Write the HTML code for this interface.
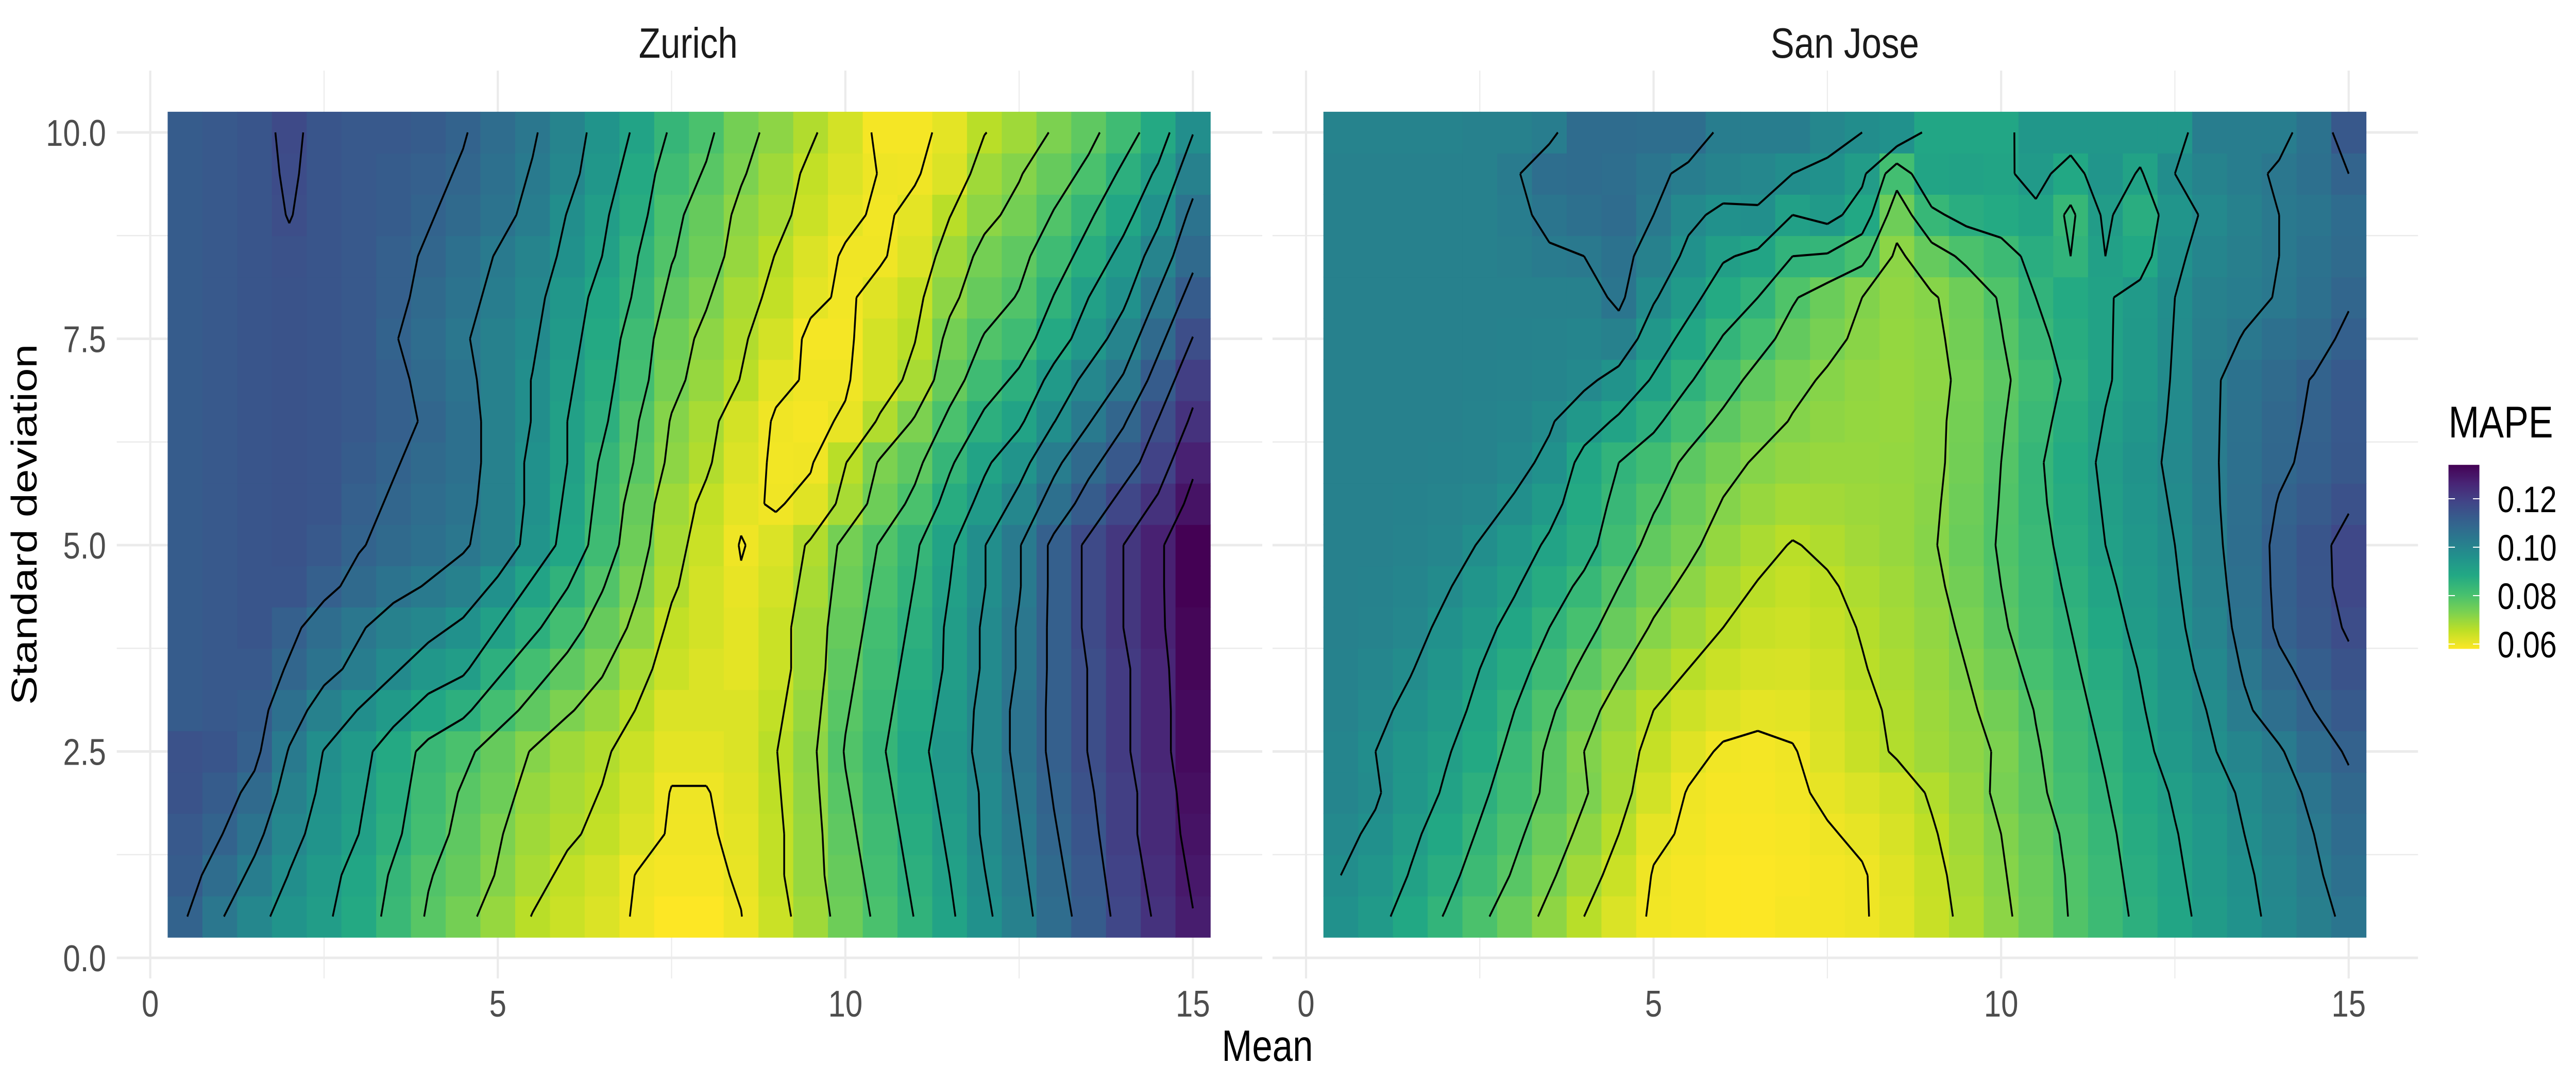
<!DOCTYPE html>
<html><head><meta charset="utf-8"><title>MAPE heatmaps</title>
<style>html,body{margin:0;padding:0;background:#fff;overflow:hidden;width:100%;height:100%}svg{display:block;position:fixed;left:0;top:0;width:100vw;height:100vh}text{font-family:"Liberation Sans",Arial,sans-serif}</style>
</head><body>
<svg id="chart" xmlns="http://www.w3.org/2000/svg" viewBox="0 0 6000 2100" preserveAspectRatio="none">
<rect x="0" y="0" width="6000" height="2100" fill="#ffffff"/>
<g id="panels"></g>
<text x="1603" y="112" text-anchor="middle" font-size="83" fill="#1a1a1a">Zurich</text>
<text x="4297" y="112" text-anchor="middle" font-size="83" fill="#1a1a1a">San Jose</text>
<text x="2952" y="2059" text-anchor="middle" font-size="85" fill="#000">Mean</text>
<text transform="translate(85,1018) rotate(-90)" text-anchor="middle" font-size="84" fill="#000">Standard deviation</text>
<g id="legend">
<text x="5703" y="849" font-size="86" fill="#000">MAPE</text>
</g>
</svg>
<script>
// ---------- data (MAPE x 1000) ----------
const meanValues = [0.5,1,1.5,2,2.5,3,3.5,4,4.5,5,5.5,6,6.5,7,7.5,8,8.5,9,9.5,10,10.5,11,11.5,12,12.5,13,13.5,14,14.5,15];
const sdValues = [0.5,1,1.5,2,2.5,3,3.5,4,4.5,5,5.5,6,6.5,7,7.5,8,8.5,9,9.5,10];
const xTicks = [0,5,10,15];
const xTickLabels = ["0","5","10","15"];
const yTicks = [0,2.5,5,7.5,10];
const yTickLabels = ["0.0","2.5","5.0","7.5","10.0"];
const legendBreaks = [0.06,0.08,0.10,0.12];
const legendLabels = ["0.06","0.08","0.10","0.12"];
const contourLevels = [0.060,0.0662,0.0724,0.0786,0.0848,0.091,0.0972,0.1034,0.1096,0.1158,0.122,0.1282,0.1344];

const zurichY05 = [110,104,99,95,92,88,83,78,74,70,66,64,62,59.5,58,58,59.9,64,69,75,80,85,90,96,101,107,112,118,123,128];
const zurichY10 = [112,107,102,97,93,89,84,79,76,72,68,65,63,59.8,59,59,60.5,65,70,76,81,86,91,97,102,108,113,119,124,129];
const zurichY15 = [113,110,105,99,95,91,86,81,77,73,69,67,65,62,59.5,59.5,61,65,70,77,82,87,92,98,103,109,114,120,125,130];
const zurichY20 = [114.5,112,108,101,96,92,87,82,78,75,70,68,66,63,59.8,59.8,61.5,65.5,70.5,78,83,88,93,98,104,110,115,120,125,131];
const zurichY25 = [115,114,111,103,97,93,88,83,80,76,72,69,67,64,61,61,62,66,71,79,84,89,94,99,105,111,116,121,126,132];
const zurichY30 = [112,113,112,106,101,97,93,89,86,81,77,73,70,66,62,62,62,65,70,78,83,88,93,99,105,111,116,121,126,132];
const zurichY35 = [112,113,113,109,105,102,98,94,92,86,81,77,73,68,64,62,61,64,69,77,82,87,92,98,104,111,116,121,126,133];
const zurichY40 = [112,113,114,111,107,104,101,99,96,91,86,81,76,71,65,63,61,64,69,76,81,86,92,98,104,111,117,122,127,133];
const zurichY45 = [112,113,114,114,111,108,105,103,101,96,90,85,79,73,67,63,60.5,63,68,75,80,85,91,97,103,111,117,122,127,134];
const zurichY50 = [112,113,114,114.5,113,110,108,106,104,101,95,89,82,75,68,64,59.7,62,67,74,79,84,90,97,103,111,117,122,127,134];
const zurichY55 = [112,113,114,114.5,114,111,109,107,105,101,96,90,83,76,69,65,61,59.5,61.5,68,75,80,87,93,99,106,112,118,123,130];
const zurichY60 = [112,113,114,114.5,114,112,110,108,106,101,96,91,84,78,71,67,62,59.3,59.5,66,73,77,84,90,95,102,108,113,119,127];
const zurichY65 = [112,113,114,114.5,114,113,111,109,106,101,97,91,86,79,72,68,63,59.5,59,60.5,67,73,80,86,90,97,103,109,116,123];
const zurichY70 = [112,113,114,114.5,114,113,111,108,105,101,97,92,87,81,74,70,66,61,59.5,59.5,63,68,76,82,86,93,99,104,112,120];
const zurichY75 = [112,113,114,114.5,114,113,110,107,104,101,98,93,88,82,75,71,67,63,59,59,63,66,74,79,82,88,94,100,108,116];
const zurichY80 = [112,113,114,114.5,114,113,111,108,105,102,99,94,89,84,77,73,68,65,61,59.3,61.5,64.6,71,76,79,85,91,96,104,112];
const zurichY85 = [112,113,114,115,114,113,111,109,106,103,100,96,91,85,79,75,70,66,62,59.5,59.5,62,69,74,77,82,87,93,100,108];
const zurichY90 = [112,113,114,116,114,113,112,110,108,105,102,97,92,87,80,76,71,68,64,61,59.3,61,66,71,74,79,84,89,96,105];
const zurichY95 = [112,113,114,116.5,114,113,112,111,109,106,103,99,94,88,82,78,73,69,65,62,59.8,59.6,62,69,72,76,80,86,92,101];
const zurichY100 = [112,113,114,117,114,113,113,112,110,107,104,100,95,90,84,80,74,71,67,63,59,59,61,66,69,73,77,82,88,97];

const sanjoseY05 = [96.0,92.9,88.5,84.5,79.8,75.5,70.9,66.2,62.2,59.4,58.8,58.1,58.1,58.8,59.1,59.7,61.2,64.3,67.4,71.2,74.9,78.9,82.3,86.0,89.5,92.6,95.7,98.8,101.5,104.6];
const sanjoseY10 = [97.2,94.7,90.7,86.7,82.3,78.0,73.3,68.7,64.0,59.7,58.8,58.1,58.1,58.5,59.1,59.7,61.6,64.7,68.1,71.8,75.5,79.2,82.9,86.7,90.1,93.2,96.3,99.4,102.5,105.9];
const sanjoseY15 = [98.4,96.3,92.2,88.5,84.2,79.8,75.5,70.9,66.2,60.9,59.4,58.5,58.5,58.8,59.7,60.6,62.5,65.6,69.0,72.4,76.1,79.8,83.6,87.3,90.7,93.8,97.2,100.3,103.4,107.1];
const sanjoseY20 = [99.7,97.8,94.1,90.4,86.0,81.7,77.4,73.0,68.1,63.1,59.7,58.8,58.8,59.4,60.6,62.2,63.7,66.8,69.9,73.6,77.4,81.1,84.5,88.2,91.6,94.7,98.1,101.2,104.6,108.4];
const sanjoseY25 = [99.7,97.2,94.4,91.6,88.2,82.9,77.7,72.4,68.4,64.7,61.6,59.4,59.1,59.7,61.9,64.3,66.8,69.0,70.9,73.0,78.0,82.0,85.4,89.5,93.2,96.6,99.7,102.8,107.1,110.2];
const sanjoseY30 = [100.3,98.4,96.0,93.5,89.5,84.8,79.5,74.6,69.9,66.2,63.7,61.9,60.9,61.2,62.5,65.0,67.1,69.3,71.5,74.3,78.9,82.9,86.4,90.4,94.4,97.5,102.5,106.2,109.6,112.7];
const sanjoseY35 = [100.6,99.4,97.5,94.7,91.0,87.0,82.3,77.4,73.0,69.0,66.2,64.0,62.8,62.5,63.7,65.9,67.8,69.9,72.4,76.1,80.5,83.9,87.3,91.3,95.3,98.8,104.0,108.4,111.5,114.6];
const sanjoseY40 = [100.9,100.3,99.1,96.0,92.9,89.1,84.8,80.5,75.8,71.8,69.0,66.2,64.3,63.7,64.7,66.5,68.4,70.5,73.3,77.7,82.0,84.8,88.5,92.6,96.0,100.0,105.3,110.5,113.3,116.4];
const sanjoseY45 = [100.9,100.6,99.7,97.8,94.7,91.6,87.3,83.6,78.6,74.3,71.2,68.1,65.9,64.7,65.6,67.4,69.0,71.2,74.3,78.6,82.3,85.7,89.8,93.5,96.6,100.9,105.9,110.8,113.6,117.7];
const sanjoseY50 = [100.9,100.9,100.3,99.4,96.9,93.8,90.1,86.7,81.7,76.7,73.6,70.2,67.8,65.9,67.1,68.7,69.9,71.8,75.5,79.2,82.9,86.7,91.0,94.1,97.2,101.5,106.5,110.8,113.9,117.7];
const sanjoseY55 = [100.9,100.9,100.6,100.0,99.1,96.6,92.9,87.9,83.3,79.2,75.5,72.1,69.9,68.4,68.7,69.3,69.9,71.5,74.9,78.9,83.6,87.3,91.6,94.7,97.8,102.2,106.2,109.9,112.4,115.2];
const sanjoseY60 = [100.9,100.9,100.9,100.6,100.3,98.8,96.0,89.1,84.8,81.7,77.4,74.0,71.8,70.5,69.9,69.9,70.2,71.2,74.3,78.6,83.9,87.9,92.2,95.3,98.4,102.5,105.9,108.7,110.8,113.3];
const sanjoseY65 = [100.9,100.9,100.9,100.9,100.3,99.7,97.8,93.8,90.1,86.0,81.4,77.4,74.3,72.1,70.9,70.2,69.9,71.2,74.0,78.0,82.9,87.0,91.3,94.4,98.1,102.5,105.6,108.4,110.2,113.0];
const sanjoseY70 = [100.9,100.9,100.9,100.9,100.6,100.3,99.7,98.4,95.3,90.4,85.4,81.1,76.7,73.6,71.8,70.5,69.9,70.9,73.6,77.4,81.7,86.0,90.4,93.5,97.8,102.5,105.3,107.7,109.9,112.7];
const sanjoseY75 = [100.9,100.9,100.9,100.9,100.9,100.6,100.3,99.7,100.9,94.1,89.1,84.5,80.8,76.4,73.6,71.5,70.2,71.2,74.3,78.3,83.3,87.0,90.4,93.2,97.5,101.5,103.7,105.9,107.7,110.8];
const sanjoseY80 = [100.9,100.9,100.9,100.9,100.9,100.9,100.9,100.9,104.6,97.8,92.9,87.9,84.8,79.2,75.5,72.4,70.5,71.8,74.9,79.2,84.8,87.9,90.4,92.9,97.2,100.9,102.2,103.7,105.9,109.0];
const sanjoseY85 = [100.9,100.9,100.9,100.9,100.9,101.5,102.8,103.4,105.3,100.9,96.0,91.6,89.8,84.8,84.2,80.5,71.2,76.1,79.8,82.3,86.7,84.8,91.0,88.5,96.0,99.7,101.5,103.4,105.3,107.7];
const sanjoseY90 = [100.9,100.9,100.9,100.9,100.9,102.2,104.6,105.9,107.1,103.4,98.4,96.0,96.6,91.0,92.9,88.5,74.9,83.6,86.7,87.9,89.8,83.6,92.2,86.7,94.7,98.4,100.9,103.4,104.6,107.1];
const sanjoseY95 = [100.9,100.9,100.9,100.9,100.9,102.8,106.5,107.1,106.5,104.6,102.2,100.3,99.1,97.2,96.0,92.2,81.1,89.8,90.4,89.8,92.9,88.5,94.7,90.4,97.2,100.3,102.2,104.0,105.9,109.6];
const sanjoseY100 = [100.3,100.3,100.3,100.3,100.9,100.9,102.2,107.1,107.1,106.5,106.5,102.2,102.2,102.2,99.1,97.2,96.0,89.1,89.1,89.1,94.1,94.1,94.1,94.1,94.1,102.2,102.2,102.2,105.3,113.3];

const zurichRows = [zurichY05,zurichY10,zurichY15,zurichY20,zurichY25,zurichY30,zurichY35,zurichY40,zurichY45,zurichY50,zurichY55,zurichY60,zurichY65,zurichY70,zurichY75,zurichY80,zurichY85,zurichY90,zurichY95,zurichY100];
const sanjoseRows = [sanjoseY05,sanjoseY10,sanjoseY15,sanjoseY20,sanjoseY25,sanjoseY30,sanjoseY35,sanjoseY40,sanjoseY45,sanjoseY50,sanjoseY55,sanjoseY60,sanjoseY65,sanjoseY70,sanjoseY75,sanjoseY80,sanjoseY85,sanjoseY90,sanjoseY95,sanjoseY100];

// ---------- layout ----------
const NS = "http://www.w3.org/2000/svg";
const PX_PER_X = 161.9, PX_PER_Y = 160.2, Y0 = 1859;
const panelsCfg = [
  {key:"zurich", rows:zurichRows, x0:350, left:272, right:2940, showY:true},
  {key:"san-jose", rows:sanjoseRows, x0:3042, left:2964, right:5632, showY:false}
];
const PANEL_TOP = 137, PANEL_BOTTOM = 1899;
function yScale(v){ return Y0 - v*PX_PER_Y; }
function mk(tag, attrs, parent){
  const e = document.createElementNS(NS, tag);
  for (const k in attrs) e.setAttribute(k, attrs[k]);
  parent.appendChild(e); return e;
}
const vStops = ["#440154","#482475","#414487","#355f8d","#2a788e","#21918c","#22a884","#44bf70","#7ad151","#bddf26","#fde725"];
function hex(c){ return [parseInt(c.slice(1,3),16),parseInt(c.slice(3,5),16),parseInt(c.slice(5,7),16)]; }
function viridis(t){
  t = Math.max(0, Math.min(1, t));
  const p = t*10, i = Math.min(9, Math.floor(p)), f = p - i;
  const a = hex(vStops[i]), b = hex(vStops[i+1]);
  return "rgb(" + a.map((v,k)=>Math.round(v+(b[k]-v)*f)).join(",") + ")";
}
let vmin = Infinity, vmax = -Infinity;
for (const p of panelsCfg) for (const r of p.rows) for (const v of r){ if (v<vmin) vmin=v; if (v>vmax) vmax=v; }
vmin /= 1000; vmax /= 1000;
function colorOf(v){ return viridis((vmax - v)/(vmax - vmin)); }

const panelsG = document.getElementById("panels");
for (const p of panelsCfg){
  const xScale = v => p.x0 + v*PX_PER_X;
  const g = mk("g", {}, panelsG);
  
  
  const grid = mk("g", {stroke:"#ebebeb", fill:"none"}, g);
  
  
  for (let k=0; k<xTicks.length; k++){
    const x = xScale(xTicks[k]);
    const ln = mk("line", {x1:x, x2:x, y1:PANEL_TOP, y2:PANEL_BOTTOM, "stroke-width":5}, grid);
    
    
    if (k < xTicks.length-1){
      const xm = xScale((xTicks[k]+xTicks[k+1])/2);
      const lm = mk("line", {x1:xm, x2:xm, y1:PANEL_TOP, y2:PANEL_BOTTOM, "stroke-width":2.5}, grid);
      
      
    }
  }
  for (let k=0; k<yTicks.length; k++){
    const y = yScale(yTicks[k]);
    const ln = mk("line", {x1:p.left, x2:p.right, y1:y, y2:y, "stroke-width":5}, grid);
    
    
    if (k < yTicks.length-1){
      const ym = yScale((yTicks[k]+yTicks[k+1])/2);
      const lm = mk("line", {x1:p.left, x2:p.right, y1:ym, y2:ym, "stroke-width":2.5}, grid);
      
      
    }
  }
  const tiles = mk("g", {}, g);
  
  
  const hw = 0.25*PX_PER_X, hh = 0.25*PX_PER_Y;
  for (let j=0; j<sdValues.length; j++){
    for (let i=0; i<meanValues.length; i++){
      const v = p.rows[j][i]/1000;
      const cx = xScale(meanValues[i]), cy = yScale(sdValues[j]);
      const r = mk("rect", {x:(cx-hw).toFixed(1), y:(cy-hh).toFixed(1), width:(2*hw+0.8).toFixed(1), height:(2*hh+0.8).toFixed(1), fill:colorOf(v)}, tiles);
      
      
    }
  }
  let d = "";
  for (const L of contourLevels){
    for (let j=0; j<sdValues.length-1; j++){
      for (let i=0; i<meanValues.length-1; i++){
        const xa=meanValues[i], xb=meanValues[i+1], ya=sdValues[j], yb=sdValues[j+1];
        const a=p.rows[j][i]/1000, b=p.rows[j][i+1]/1000, c=p.rows[j+1][i+1]/1000, e=p.rows[j+1][i]/1000;
        const pts = [];
        const edge = (v1,v2,x1,y1,x2,y2,id) => {
          if ((v1<L)!==(v2<L)){ const f=(L-v1)/(v2-v1); pts.push({id, x:x1+(x2-x1)*f, y:y1+(y2-y1)*f}); }
        };
        edge(a,b,xa,ya,xb,ya,0); edge(b,c,xb,ya,xb,yb,1); edge(c,e,xb,yb,xa,yb,2); edge(e,a,xa,yb,xa,ya,3);
        const seg = (p1,p2) => { d += "M"+xScale(p1.x).toFixed(1)+" "+yScale(p1.y).toFixed(1)+"L"+xScale(p2.x).toFixed(1)+" "+yScale(p2.y).toFixed(1); };
        if (pts.length===2) seg(pts[0],pts[1]);
        else if (pts.length===4){
          const m=(a+b+c+e)/4, byId={}; for (const q of pts) byId[q.id]=q;
          if ((m<L)===(a<L)){ seg(byId[0],byId[1]); seg(byId[2],byId[3]); }
          else { seg(byId[3],byId[0]); seg(byId[1],byId[2]); }
        }
      }
    }
  }
  const cp = mk("path", {d:d, fill:"none", stroke:"#000", "stroke-width":4.2, "stroke-linejoin":"round", "stroke-linecap":"butt"}, g);
  
  
  for (let k=0; k<xTicks.length; k++){
    const t = mk("text", {x:xScale(xTicks[k]), y:1973, "text-anchor":"middle", "font-size":72, fill:"#4d4d4d"}, g);
    t.textContent = xTickLabels[k];
    
    
  }
  if (p.showY){
    for (let k=0; k<yTicks.length; k++){
      const t = mk("text", {x:247, y:yScale(yTicks[k])+26, "text-anchor":"end", "font-size":72, fill:"#4d4d4d"}, g);
      t.textContent = yTickLabels[k];
      
      
    }
  }
}

// ---------- legend ----------
const legend = document.getElementById("legend");
const LEG_PX = 4700;
function legY(v){ return 1250 - (v - 0.06)*LEG_PX; }
const defs = mk("defs", {}, legend);
const grad = mk("linearGradient", {id:"vgrad", x1:0, y1:0, x2:0, y2:1}, defs);
for (let k=0; k<=20; k++){
  const t = k/20;
  mk("stop", {offset:t, "stop-color":viridis(t)}, grad);
}
const barTop = legY(vmax), barBot = legY(vmin);
const bar = mk("rect", {x:5703, y:barTop.toFixed(1), width:72, height:(barBot-barTop).toFixed(1), fill:"url(#vgrad)"}, legend);


for (let k=0; k<legendBreaks.length; k++){
  const y = legY(legendBreaks[k]);
  const t1 = mk("line", {x1:5703, x2:5718, y1:y, y2:y, stroke:"#fff", "stroke-width":2}, legend);
  
  
  const t2 = mk("line", {x1:5760, x2:5775, y1:y, y2:y, stroke:"#fff", "stroke-width":2}, legend);
  
  
  const lb = mk("text", {x:5817, y:y+26, "font-size":71, fill:"#000"}, legend);
  lb.textContent = legendLabels[k];
  
  
}
</script>
</body></html>
